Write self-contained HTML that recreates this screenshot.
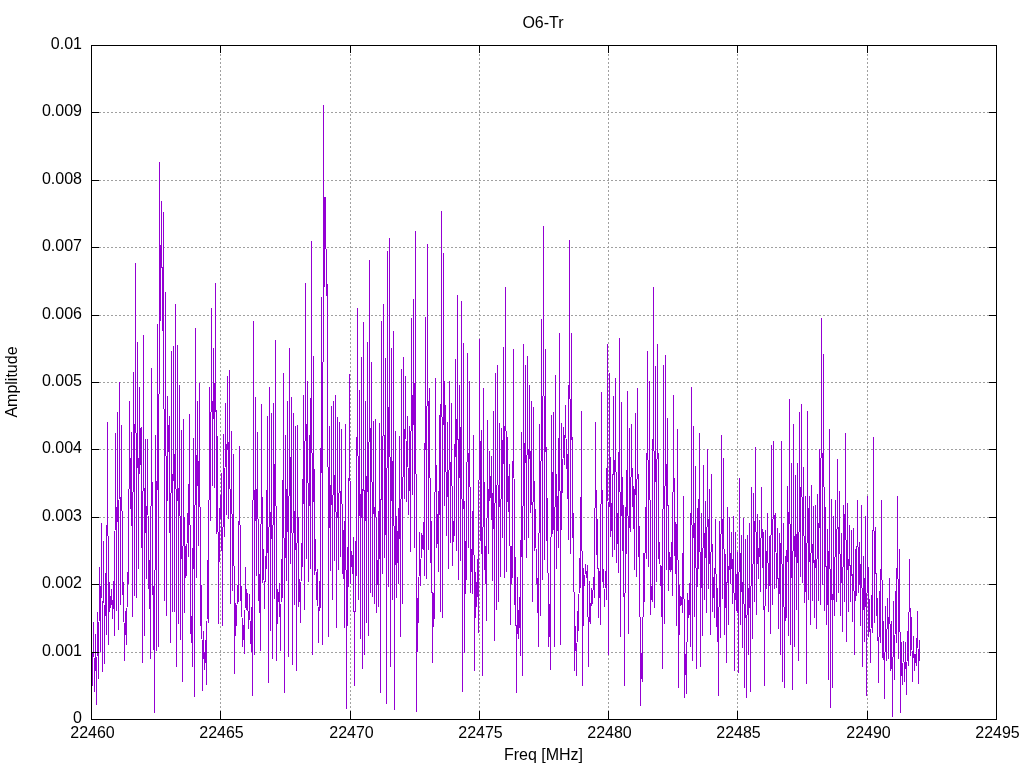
<!DOCTYPE html>
<html><head><meta charset="utf-8"><title>O6-Tr</title>
<style>html,body{margin:0;padding:0;background:#fff;width:1024px;height:768px;overflow:hidden}svg{display:block}</style>
</head><body><svg width="1024" height="768" viewBox="0 0 1024 768">
<rect width="1024" height="768" fill="#fff"/>
<path d="M220.5 46V719M350.5 46V719M479.5 46V719M608.5 46V719M737.5 46V719M867.5 46V719M91 652.5H996M91 584.5H996M91 517.5H996M91 449.5H996M91 382.5H996M91 315.5H996M91 247.5H996M91 180.5H996M91 112.5H996" stroke="#a0a0a0" stroke-width="1" stroke-dasharray="2 2" fill="none" shape-rendering="crispEdges"/><path d="M91.5 644.0 92.5 685.1 93.5 622.4 94.5 691.5 95.5 634.6 96.5 705.0 97.5 612.4 98.5 679.0 99.5 567.6 100.5 651.3 101.5 524.0 102.5 671.5 103.5 542.0 104.5 663.0 105.5 573.6 106.5 634.3 107.5 423.0 108.5 644.0 109.5 582.6 110.5 607.5 111.5 590.0 112.5 619.0 113.5 581.9 114.5 635.6 115.5 434.0 116.5 610.5 117.5 412.5 118.5 629.1 119.5 382.8 120.5 604.9 121.5 425.8 122.5 594.2 123.5 582.4 124.5 660.6 125.5 611.2 126.5 644.6 127.5 572.8 128.5 583.8 129.5 402.0 130.5 508.7 131.5 433.0 132.5 616.9 133.5 372.7 134.5 595.2 135.5 264.0 136.5 597.7 137.5 342.6 138.5 568.0 139.5 388.0 140.5 464.2 141.5 428.0 142.5 662.0 143.5 336.0 144.5 635.0 145.5 440.0 146.5 578.2 147.5 440.0 148.5 588.4 149.5 560.3 150.5 658.0 151.5 368.8 152.5 594.0 153.5 586.5 154.5 712.0 155.5 435.8 156.5 650.5 157.5 325.0 158.5 646.5 159.5 162.9 160.5 320.0 161.5 202.0 162.5 330.0 163.5 212.5 164.5 600.0 165.5 292.6 166.5 615.0 167.5 396.2 168.5 451.3 169.5 416.2 170.5 642.6 171.5 352.0 172.5 611.0 173.5 347.0 174.5 611.0 175.5 305.0 176.5 666.0 177.5 346.0 178.5 623.0 179.5 386.0 180.5 639.0 181.5 431.0 182.5 681.7 183.5 419.0 184.5 612.5 185.5 546.6 186.5 576.0 187.5 513.1 188.5 556.7 189.5 415.0 190.5 633.0 191.5 616.8 192.5 666.9 193.5 438.8 194.5 696.6 195.5 328.3 196.5 577.4 197.5 401.7 198.5 545.0 199.5 384.0 200.5 625.5 201.5 585.6 202.5 690.0 203.5 631.1 204.5 670.0 205.5 640.2 206.5 685.0 207.5 560.1 208.5 623.0 209.5 388.0 210.5 520.6 211.5 309.0 212.5 485.6 213.5 349.0 214.5 487.8 215.5 283.8 216.5 533.4 217.5 437.0 218.5 623.0 219.5 508.0 220.5 519.0 221.5 473.5 222.5 625.0 223.5 434.5 224.5 536.8 225.5 404.0 226.5 514.3 227.5 377.0 228.5 518.9 229.5 371.0 230.5 603.6 231.5 432.0 232.5 590.8 233.5 455.0 234.5 673.0 235.5 603.2 236.5 625.1 237.5 585.5 238.5 601.3 239.5 446.6 240.5 600.0 241.5 586.5 242.5 646.9 243.5 625.3 244.5 654.0 245.5 567.1 246.5 609.6 247.5 593.1 248.5 628.3 249.5 594.8 250.5 643.5 251.5 607.8 252.5 695.4 253.5 321.0 254.5 654.0 255.5 397.8 256.5 575.0 257.5 433.0 258.5 600.7 259.5 575.0 260.5 650.5 261.5 405.0 262.5 582.2 263.5 549.8 264.5 608.5 265.5 556.8 266.5 568.6 267.5 416.6 268.5 682.5 269.5 387.0 270.5 630.6 271.5 414.0 272.5 658.0 273.5 403.0 274.5 598.3 275.5 341.0 276.5 660.0 277.5 589.5 278.5 601.7 279.5 583.3 280.5 650.5 281.5 559.3 282.5 597.2 283.5 373.6 284.5 692.7 285.5 435.0 286.5 580.5 287.5 401.7 288.5 656.0 289.5 349.0 290.5 563.5 291.5 397.8 292.5 664.0 293.5 413.6 294.5 604.3 295.5 427.0 296.5 670.0 297.5 426.0 298.5 606.8 299.5 579.6 300.5 623.0 301.5 543.2 302.5 566.5 303.5 396.0 304.5 609.4 305.5 283.7 306.5 558.2 307.5 381.7 308.5 581.6 309.5 436.0 310.5 568.0 311.5 241.3 312.5 654.0 313.5 357.0 314.5 574.8 315.5 539.7 316.5 599.9 317.5 569.1 318.5 642.6 319.5 582.0 320.5 608.0 321.5 297.4 322.5 644.6 323.5 105.0 324.5 286.0 325.5 198.0 326.5 296.0 327.5 284.6 328.5 636.8 329.5 426.4 330.5 570.0 331.5 406.5 332.5 599.7 333.5 401.2 334.5 560.6 335.5 395.9 336.5 627.0 337.5 418.0 338.5 569.7 339.5 422.7 340.5 556.7 341.5 429.6 342.5 573.1 343.5 530.1 344.5 627.0 345.5 425.0 346.5 708.3 347.5 547.8 348.5 586.7 349.5 374.9 350.5 583.3 351.5 551.8 352.5 574.0 353.5 537.8 354.5 685.6 355.5 541.5 356.5 575.7 357.5 308.8 358.5 599.2 359.5 390.8 360.5 638.8 361.5 358.0 362.5 668.0 363.5 322.5 364.5 654.0 365.5 401.3 366.5 622.8 367.5 343.0 368.5 635.4 369.5 261.0 370.5 592.0 371.5 362.6 372.5 596.1 373.5 421.4 374.5 603.5 375.5 419.5 376.5 612.0 377.5 560.6 378.5 606.9 379.5 424.0 380.5 692.7 381.5 321.5 382.5 573.8 383.5 305.0 384.5 557.4 385.5 359.0 386.5 703.0 387.5 251.8 388.5 586.7 389.5 238.0 390.5 666.0 391.5 349.0 392.5 599.9 393.5 331.4 394.5 709.0 395.5 431.0 396.5 597.7 397.5 531.6 398.5 584.0 399.5 437.0 400.5 636.8 401.5 369.7 402.5 603.6 403.5 358.0 404.5 498.0 405.5 376.3 406.5 501.4 407.5 417.0 408.5 514.7 409.5 427.0 410.5 551.8 411.5 319.0 412.5 494.4 413.5 300.0 414.5 547.6 415.5 231.8 416.5 711.0 417.5 598.6 418.5 623.0 419.5 533.0 420.5 585.5 421.5 533.1 422.5 549.0 423.5 522.7 424.5 575.9 425.5 317.7 426.5 578.8 427.5 244.7 428.5 549.0 429.5 388.8 430.5 562.2 431.5 521.5 432.5 662.0 433.5 593.5 434.5 619.0 435.5 378.3 436.5 547.2 437.5 514.9 438.5 571.9 439.5 415.4 440.5 611.0 441.5 211.0 442.5 617.0 443.5 253.3 444.5 505.5 445.5 405.6 446.5 535.2 447.5 423.0 448.5 568.4 449.5 381.4 450.5 542.0 451.5 403.7 452.5 565.0 453.5 521.6 454.5 535.2 455.5 359.5 456.5 550.4 457.5 295.5 458.5 579.2 459.5 385.3 460.5 560.9 461.5 302.0 462.5 691.5 463.5 344.0 464.5 652.4 465.5 541.9 466.5 579.3 467.5 354.0 468.5 547.9 469.5 381.4 470.5 592.2 471.5 549.5 472.5 593.9 473.5 436.0 474.5 670.0 475.5 572.3 476.5 606.9 477.5 559.5 478.5 633.0 479.5 340.0 480.5 540.0 481.5 431.0 482.5 675.9 483.5 388.0 484.5 569.7 485.5 546.3 486.5 621.0 487.5 421.0 488.5 553.7 489.5 451.9 490.5 497.1 491.5 456.2 492.5 580.4 493.5 412.0 494.5 640.7 495.5 373.6 496.5 609.5 497.5 365.8 498.5 601.6 499.5 423.4 500.5 576.0 501.5 429.0 502.5 537.0 503.5 348.0 504.5 577.0 505.5 287.3 506.5 571.4 507.5 438.0 508.5 512.0 509.5 465.0 510.5 624.5 511.5 547.0 512.5 577.7 513.5 350.0 514.5 604.5 515.5 557.5 516.5 692.7 517.5 578.0 518.5 638.8 519.5 598.0 520.5 656.0 521.5 433.0 522.5 675.9 523.5 345.0 524.5 539.4 525.5 365.8 526.5 557.1 527.5 356.8 528.5 537.0 529.5 386.0 530.5 512.4 531.5 401.7 532.5 601.6 533.5 407.6 534.5 550.4 535.5 509.6 536.5 583.8 537.5 579.0 538.5 646.5 539.5 425.0 540.5 615.0 541.5 320.0 542.5 579.3 543.5 226.7 544.5 559.4 545.5 350.0 546.5 540.5 547.5 498.7 548.5 646.5 549.5 604.1 550.5 670.0 551.5 415.4 552.5 533.0 553.5 412.7 554.5 646.5 555.5 376.0 556.5 568.0 557.5 496.3 558.5 547.8 559.5 333.8 560.5 644.6 561.5 423.3 562.5 492.8 563.5 427.3 564.5 464.7 565.5 405.6 566.5 468.2 567.5 454.7 568.5 539.4 569.5 240.0 570.5 553.7 571.5 333.8 572.5 537.0 573.5 513.3 574.5 670.0 575.5 626.6 576.5 675.9 577.5 611.3 578.5 631.0 579.5 558.1 580.5 587.2 581.5 412.0 582.5 685.6 583.5 569.0 584.5 585.1 585.5 564.3 586.5 577.2 587.5 566.0 588.5 666.0 589.5 581.8 590.5 623.7 591.5 589.0 592.5 603.8 593.5 577.3 594.5 597.1 595.5 423.0 596.5 554.0 597.5 519.5 598.5 617.1 599.5 571.4 600.5 624.6 601.5 393.0 602.5 581.9 603.5 569.9 604.5 606.3 605.5 571.1 606.5 599.9 607.5 345.0 608.5 654.0 609.5 374.0 610.5 536.6 611.5 503.5 612.5 556.7 613.5 397.0 614.5 549.0 615.5 378.3 616.5 562.8 617.5 513.8 618.5 573.0 619.5 339.0 620.5 636.8 621.5 402.5 622.5 550.3 623.5 506.0 624.5 685.6 625.5 507.4 626.5 553.6 627.5 392.0 628.5 633.0 629.5 429.0 630.5 531.9 631.5 425.0 632.5 506.6 633.5 486.3 634.5 569.2 635.5 413.4 636.5 576.0 637.5 389.0 638.5 556.2 639.5 527.0 640.5 705.0 641.5 653.8 642.5 681.7 643.5 553.8 644.5 601.6 645.5 507.5 646.5 558.4 647.5 352.0 648.5 566.3 649.5 382.0 650.5 614.8 651.5 586.4 652.5 601.3 653.5 287.7 654.5 607.7 655.5 366.6 656.5 581.4 657.5 345.0 658.5 558.4 659.5 542.2 660.5 585.6 661.5 566.4 662.5 668.0 663.5 365.8 664.5 623.0 665.5 356.0 666.5 569.7 667.5 418.5 668.5 590.1 669.5 552.7 670.5 572.0 671.5 542.9 672.5 595.5 673.5 395.9 674.5 555.7 675.5 522.1 676.5 625.7 677.5 430.0 678.5 687.6 679.5 585.3 680.5 606.0 681.5 597.3 682.5 612.7 683.5 496.0 684.5 697.3 685.5 654.2 686.5 693.4 687.5 593.1 688.5 617.3 689.5 583.2 690.5 647.0 691.5 387.0 692.5 660.0 693.5 427.0 694.5 616.7 695.5 467.0 696.5 668.0 697.5 508.8 698.5 568.6 699.5 433.7 700.5 666.0 701.5 513.7 702.5 635.0 703.5 466.0 704.5 599.5 705.5 502.0 706.5 612.5 707.5 449.3 708.5 588.0 709.5 490.0 710.5 634.5 711.5 474.7 712.5 611.0 713.5 577.8 714.5 617.8 715.5 519.6 716.5 626.3 717.5 588.4 718.5 695.4 719.5 521.6 720.5 637.8 721.5 435.6 722.5 598.0 723.5 459.0 724.5 634.5 725.5 554.2 726.5 662.0 727.5 508.0 728.5 624.0 729.5 518.0 730.5 584.0 731.5 532.6 732.5 604.0 733.5 516.2 734.5 670.0 735.5 532.6 736.5 610.4 737.5 552.8 738.5 672.0 739.5 478.6 740.5 624.0 741.5 536.0 742.5 647.0 743.5 519.0 744.5 687.6 745.5 539.4 746.5 697.3 747.5 536.0 748.5 654.0 749.5 523.9 750.5 691.5 751.5 487.4 752.5 638.8 753.5 494.0 754.5 601.6 755.5 447.3 756.5 614.8 757.5 515.0 758.5 578.2 759.5 520.6 760.5 591.6 761.5 487.4 762.5 568.0 763.5 532.9 764.5 685.6 765.5 530.2 766.5 588.4 767.5 513.9 768.5 611.4 769.5 537.0 770.5 633.0 771.5 445.4 772.5 604.5 773.5 441.5 774.5 588.0 775.5 513.6 776.5 588.0 777.5 528.5 778.5 628.0 779.5 533.2 780.5 654.0 781.5 441.5 782.5 681.7 783.5 523.6 784.5 687.6 785.5 556.7 786.5 617.8 787.5 486.4 788.5 635.2 789.5 399.8 790.5 644.6 791.5 464.0 792.5 689.5 793.5 424.0 794.5 646.5 795.5 475.8 796.5 609.1 797.5 463.6 798.5 660.0 799.5 413.0 800.5 576.0 801.5 404.7 802.5 582.8 803.5 467.1 804.5 602.8 805.5 496.8 806.5 683.7 807.5 411.0 808.5 599.5 809.5 496.8 810.5 624.5 811.5 485.4 812.5 600.7 813.5 507.0 814.5 617.1 815.5 505.3 816.5 628.9 817.5 494.3 818.5 600.7 819.5 449.6 820.5 604.0 821.5 318.8 822.5 584.0 823.5 354.7 824.5 610.4 825.5 507.1 826.5 624.0 827.5 530.0 828.5 679.8 829.5 430.0 830.5 707.0 831.5 499.1 832.5 687.6 833.5 516.1 834.5 615.0 835.5 500.9 836.5 601.9 837.5 460.0 838.5 592.0 839.5 491.2 840.5 615.0 841.5 534.0 842.5 631.8 843.5 505.9 844.5 601.9 845.5 433.6 846.5 641.7 847.5 503.2 848.5 611.5 849.5 525.1 850.5 601.9 851.5 530.1 852.5 621.8 853.5 528.4 854.5 654.0 855.5 550.0 856.5 595.2 857.5 500.2 858.5 592.0 859.5 542.7 860.5 625.7 861.5 505.9 862.5 666.0 863.5 556.8 864.5 641.9 865.5 516.8 866.5 695.4 867.5 497.0 868.5 636.1 869.5 600.0 870.5 662.1 871.5 595.9 872.5 632.7 873.5 437.5 874.5 622.0 875.5 528.0 876.5 615.2 877.5 598.4 878.5 683.0 879.5 591.7 880.5 642.1 881.5 500.3 882.5 657.7 883.5 621.3 884.5 698.8 885.5 606.9 886.5 660.7 887.5 598.2 888.5 658.2 889.5 578.3 890.5 670.1 891.5 621.2 892.5 716.0 893.5 601.3 894.5 679.5 895.5 591.9 896.5 642.5 897.5 497.0 898.5 658.2 899.5 550.0 900.5 712.8 901.5 642.5 902.5 685.0 903.5 641.2 904.5 682.0 905.5 642.5 906.5 695.0 907.5 631.2 908.5 665.6 909.5 559.7 910.5 655.0 911.5 617.6 912.5 681.4 913.5 636.3 914.5 670.9 915.5 655.0 916.5 665.6 917.5 611.1 918.5 683.9 919.5 640.4" fill="none" stroke="#9400d3" stroke-width="1" stroke-linejoin="round" stroke-linecap="round" shape-rendering="crispEdges"/><path d="M220.5 719v-8M220.5 45v8M350.5 719v-8M350.5 45v8M479.5 719v-8M479.5 45v8M608.5 719v-8M608.5 45v8M737.5 719v-8M737.5 45v8M867.5 719v-8M867.5 45v8M91 652.5h8M997 652.5h-8M91 584.5h8M997 584.5h-8M91 517.5h8M997 517.5h-8M91 449.5h8M997 449.5h-8M91 382.5h8M997 382.5h-8M91 315.5h8M997 315.5h-8M91 247.5h8M997 247.5h-8M91 180.5h8M997 180.5h-8M91 112.5h8M997 112.5h-8M91.5 45.5H996.5V719.5H91.5Z" stroke="#000" stroke-width="1" fill="none" shape-rendering="crispEdges"/><g font-family="Liberation Sans, Arial, sans-serif" font-size="16" fill="#000"><text x="92.5" y="738" text-anchor="middle">22460</text><text x="221.5" y="738" text-anchor="middle">22465</text><text x="351.5" y="738" text-anchor="middle">22470</text><text x="480.5" y="738" text-anchor="middle">22475</text><text x="609.5" y="738" text-anchor="middle">22480</text><text x="738.5" y="738" text-anchor="middle">22485</text><text x="868.5" y="738" text-anchor="middle">22490</text><text x="997.5" y="738" text-anchor="middle">22495</text><text x="82" y="723" text-anchor="end">0</text><text x="82" y="656" text-anchor="end">0.001</text><text x="82" y="588" text-anchor="end">0.002</text><text x="82" y="521" text-anchor="end">0.003</text><text x="82" y="453" text-anchor="end">0.004</text><text x="82" y="386" text-anchor="end">0.005</text><text x="82" y="319" text-anchor="end">0.006</text><text x="82" y="251" text-anchor="end">0.007</text><text x="82" y="184" text-anchor="end">0.008</text><text x="82" y="116" text-anchor="end">0.009</text><text x="82" y="49" text-anchor="end">0.01</text><text x="543" y="27.5" text-anchor="middle">O6-Tr</text><text x="543.5" y="760" text-anchor="middle">Freq [MHz]</text><text transform="translate(17 382) rotate(-90)" text-anchor="middle">Amplitude</text></g>
</svg></body></html>
